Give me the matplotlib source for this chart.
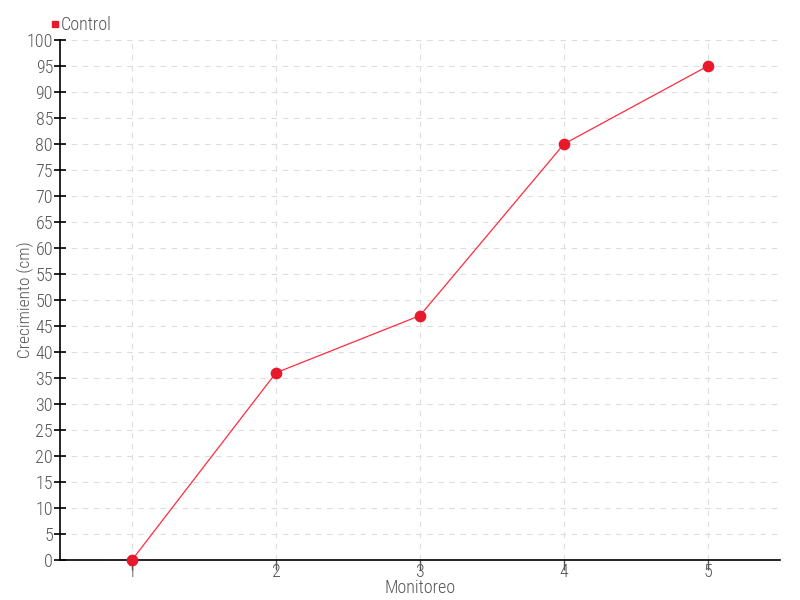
import matplotlib
matplotlib.use("Agg")
import matplotlib.pyplot as plt
from matplotlib.lines import Line2D

x_values = [1, 2, 3, 4, 5]
control = [0, 36, 47, 80, 95]
series_name = "Control"
y_ticks = list(range(0, 101, 5))

plt.rcParams['font.family'] = ['Roboto Condensed', 'DejaVu Sans']
plt.rcParams['font.stretch'] = 'condensed'
plt.rcParams['font.weight'] = 'light'

fig = plt.figure(figsize=(8, 6), dpi=100)
ax = fig.add_axes([0.075, 0.0667, 0.9, 0.8667])

ax.plot(x_values, control, color='#ff2b3f', linewidth=0.9, zorder=3)
ax.scatter(x_values, control, s=55, color='#e8192c', zorder=4, clip_on=False)

ax.set_xlim(0.5, 5.5)
ax.set_ylim(0, 100)
ax.set_xticks(x_values)
ax.set_yticks(y_ticks)
ax.grid(True, color='#dddddd', linestyle=(0, (5, 5)), linewidth=0.8)
ax.set_axisbelow(True)

for s in ['top', 'right']:
    ax.spines[s].set_visible(False)
for s in ['left', 'bottom']:
    ax.spines[s].set_linewidth(1.2)
    ax.spines[s].set_color('black')

ax.tick_params(axis='y', direction='inout', length=8, width=1.2, colors='black',
               labelcolor='#555555', labelsize=13, pad=1)
ax.tick_params(axis='x', direction='out', length=7, width=1, colors='#555555',
               labelcolor='#555555', labelsize=13, pad=-5)

ax.set_xlabel('Monitoreo', fontsize=13, color='#555555', labelpad=-1, fontweight='light')
ax.set_ylabel('Crecimiento (cm)', fontsize=12.5, color='#555555', fontweight='light')
ax.yaxis.set_label_coords(-0.036, 0.5)

handle = Line2D([], [], marker='s', color='#e8192c', linestyle='None', markersize=5)
leg = fig.legend([handle], [series_name], loc='upper left', bbox_to_anchor=(0.037, 1.0),
                 frameon=False, fontsize=13, handletextpad=-0.2, handlelength=1.0,
                 labelcolor='#555555')
for t in leg.get_texts():
    t.set_fontweight('light')

fig.savefig('out.png', dpi=100)
